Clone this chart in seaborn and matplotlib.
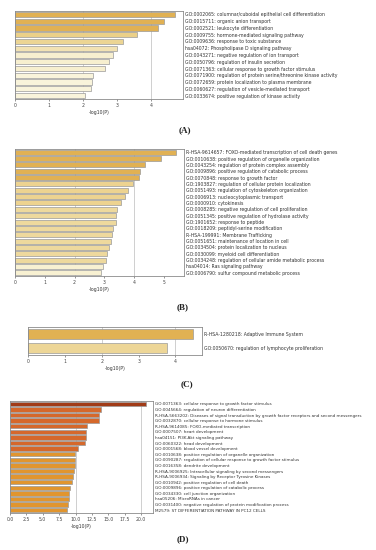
import matplotlib
matplotlib.use("Agg")
import matplotlib.pyplot as plt
import seaborn as sns

# ---------------- data ----------------
a_labels = [
    "GO:0002065: columnar/cuboidal epithelial cell differentiation",
    "GO:0015711: organic anion transport",
    "GO:0002521: leukocyte differentiation",
    "GO:0009755: hormone-mediated signaling pathway",
    "GO:0009636: response to toxic substance",
    "hsa04072: Phospholipase D signaling pathway",
    "GO:0043271: negative regulation of ion transport",
    "GO:0050796: regulation of insulin secretion",
    "GO:0071363: cellular response to growth factor stimulus",
    "GO:0071900: regulation of protein serine/threonine kinase activity",
    "GO:0072659: protein localization to plasma membrane",
    "GO:0060627: regulation of vesicle-mediated transport",
    "GO:0033674: positive regulation of kinase activity",
]
a_values = [4.69, 4.37, 4.21, 3.58, 3.17, 2.99, 2.88, 2.76, 2.64, 2.29, 2.26, 2.24, 2.05]
a_colors = ["#F8B83C", "#F8B83C", "#F8B83C", "#FBD878", "#FBDC85", "#FCE7A8",
            "#FEF3C8", "#FEF3C8", "#FEF3C8", "#FEF7D6", "#FEF7D6", "#FEF7D6", "#FEF7D6"]
a_ticks = [0, 1, 2, 3, 4]

b_labels = [
    "R-HSA-9614657: FOXO-mediated transcription of cell death genes",
    "GO:0010638: positive regulation of organelle organization",
    "GO:0043254: regulation of protein complex assembly",
    "GO:0009896: positive regulation of catabolic process",
    "GO:0070848: response to growth factor",
    "GO:1903827: regulation of cellular protein localization",
    "GO:0051493: regulation of cytoskeleton organization",
    "GO:0006913: nucleocytoplasmic transport",
    "GO:0000910: cytokinesis",
    "GO:0008285: negative regulation of cell proliferation",
    "GO:0051345: positive regulation of hydrolase activity",
    "GO:1901652: response to peptide",
    "GO:0018209: peptidyl-serine modification",
    "R-HSA-199991: Membrane Trafficking",
    "GO:0051651: maintenance of location in cell",
    "GO:0034504: protein localization to nucleus",
    "GO:0030099: myeloid cell differentiation",
    "GO:0034248: regulation of cellular amide metabolic process",
    "hsa04014: Ras signaling pathway",
    "GO:0006790: sulfur compound metabolic process",
]
b_values = [5.39, 4.90, 4.37, 4.19, 4.17, 3.95, 3.80, 3.70, 3.57, 3.42,
            3.39, 3.39, 3.29, 3.25, 3.22, 3.16, 3.07, 3.04, 2.94, 2.88]
b_colors = ["#F8B83C"] * 5 + ["#FCDA80"] * 4 + ["#FCE08F"] * 9 + ["#FEF5CC"] * 2
b_ticks = [0, 1, 2, 3, 4, 5]

c_labels = [
    "R-HSA-1280218: Adaptive Immune System",
    "GO:0050670: regulation of lymphocyte proliferation",
]
c_values = [4.48, 3.76]
c_colors = ["#F8B83C", "#FCDD88"]
c_ticks = [0, 1, 2, 3, 4]

d_labels = [
    "GO:0071363: cellular response to growth factor stimulus",
    "GO:0045664: regulation of neuron differentiation",
    "R-HSA-5663202: Diseases of signal transduction by growth factor receptors and second messengers",
    "GO:0032870: cellular response to hormone stimulus",
    "R-HSA-9614085: FOXO-mediated transcription",
    "GO:0007507: heart development",
    "hsa04151: PI3K-Akt signaling pathway",
    "GO:0060322: head development",
    "GO:0001568: blood vessel development",
    "GO:0010638: positive regulation of organelle organization",
    "GO:0090287: regulation of cellular response to growth factor stimulus",
    "GO:0016358: dendrite development",
    "R-HSA-9006925: Intracellular signaling by second messengers",
    "R-HSA-9006934: Signaling by Receptor Tyrosine Kinases",
    "GO:0010942: positive regulation of cell death",
    "GO:0009896: positive regulation of catabolic process",
    "GO:0034330: cell junction organization",
    "hsa05206: MicroRNAs in cancer",
    "GO:0031400: negative regulation of protein modification process",
    "M2579: ST DIFFERENTIATION PATHWAY IN PC12 CELLS",
]
d_values = [20.8, 13.8, 13.6, 13.5, 11.7, 11.6, 11.6, 11.45, 10.4, 9.97,
            9.9, 9.9, 9.7, 9.6, 9.4, 9.1, 9.05, 9.0, 8.9, 8.65]
d_colors = ["#B83000"] + ["#F2600E"] * 8 + ["#FF9A10"] * 11
d_ticks = [0, 2.5, 5, 7.5, 10, 12.5, 15, 17.5, 20]
d_ticklabels = ["0.0", "2.5", "5.0", "7.5", "10.0", "12.5", "15.0", "17.5", "20.0"]

captions = ["(A)", "(B)", "(C)", "(D)"]

# ---------------- figure ----------------
sns.set_theme(style="white")
plt.rcParams["font.family"] = ["DejaVu Sans"]

W, H = 376, 550
fig = plt.figure(figsize=(W / 100, H / 100), dpi=100)


def box(l, t, r, b):
    return [l / W, 1 - b / H, (r - l) / W, (b - t) / H]


def panel(rect, labels, values, colors, ticks, xmax, grid, fs, ticklabels=None):
    ax = fig.add_axes(rect)
    for g in grid:
        ax.axvline(g, color="#c8c8c8", lw=0.6, zorder=0)
    sns.barplot(x=values, y=labels, hue=labels, palette=colors, legend=False,
                dodge=False, orient="h", ax=ax, width=0.78,
                edgecolor="#9a9a9a", linewidth=0.5, zorder=2)
    ax.set_xlim(0, xmax)
    ax.set_xticks(ticks)
    if ticklabels is not None:
        ax.set_xticklabels(ticklabels)
    ax.yaxis.tick_right()
    ax.tick_params(axis="y", length=0, pad=1.2, labelsize=fs, labelcolor="#333333")
    ax.tick_params(axis="x", length=1.5, width=0.4, pad=1.5, labelsize=3.3,
                   colors="#444444", bottom=True)
    ax.set_ylabel("")
    ax.set_xlabel("-log10(P)", fontsize=3.3, labelpad=1.5, color="#333333")
    for s in ax.spines.values():
        s.set_color("#8a8a8a")
        s.set_linewidth(0.6)
    return ax


panel(box(15, 11, 183, 99), a_labels, a_values, a_colors, a_ticks, 4.93, [2, 4], 3.3)
panel(box(15, 149, 184, 276), b_labels, b_values, b_colors, b_ticks, 5.67, [2, 4], 3.35)
panel(box(28, 327, 202, 355), c_labels, c_values, c_colors, c_ticks, 4.72, [2, 4], 3.3)
panel(box(10, 401, 153, 513), d_labels, d_values, d_colors, d_ticks, 21.8, [10, 20], 2.95,
      ticklabels=d_ticklabels)

cap_pos = [(185, 130), (183, 307), (187, 384), (183, 539)]
for cap, (x, y) in zip(captions, cap_pos):
    fig.text(x / W, 1 - y / H, cap, ha="center", va="center",
             family=["Liberation Serif", "DejaVu Serif"], fontweight="bold",
             fontsize=6.5, color="#222222")

fig.savefig("out.png", dpi=100)
